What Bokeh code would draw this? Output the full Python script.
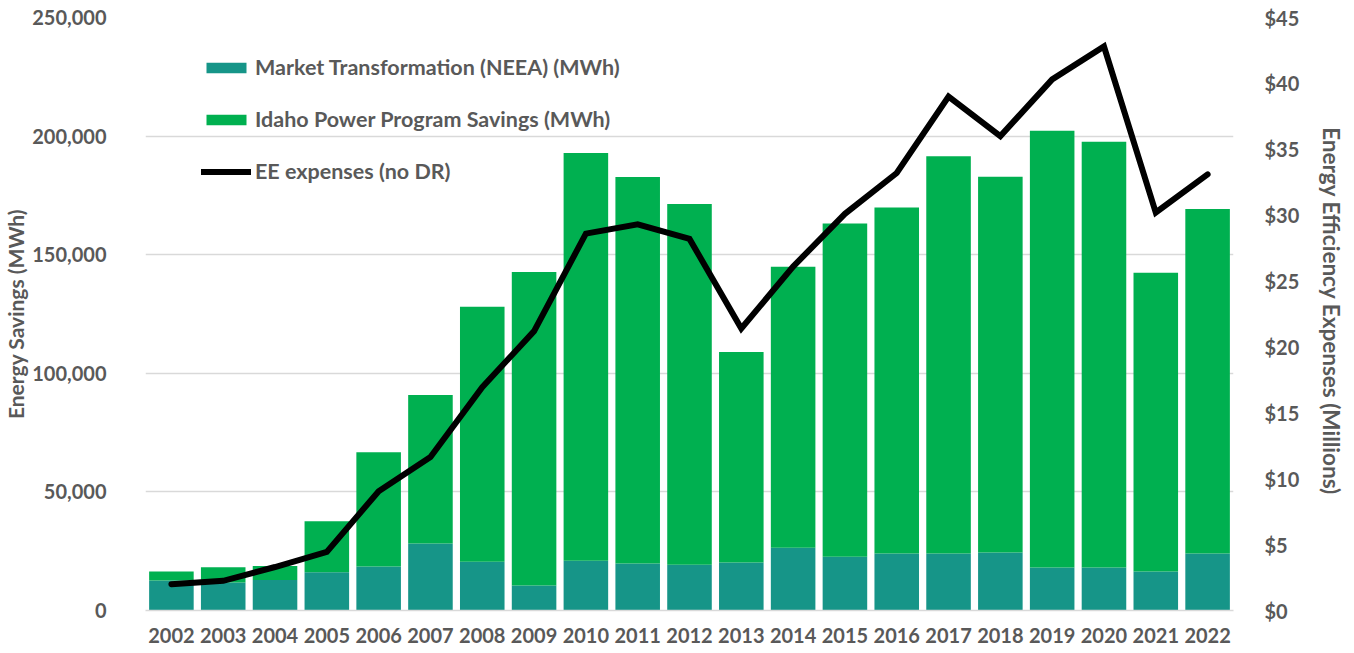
from bokeh.plotting import figure
from bokeh.models import (FactorRange, Range1d, LinearAxis, Legend, LegendItem,
                          NumeralTickFormatter, SingleIntervalTicker, ColumnDataSource)
from bokeh.embed import file_html
from bokeh.resources import INLINE

years = [str(y) for y in range(2002, 2023)]
neea_mwh = [12600, 11800, 12900, 16100, 18500, 28200, 20600, 10500, 21000, 19800, 19300,
            20200, 26500, 22700, 24000, 24000, 24400, 18100, 18100, 16400, 24000]
idaho_mwh = [3800, 6400, 5900, 21500, 48200, 62600, 107500, 132200, 171900, 163000, 152100,
             88800, 118400, 140500, 145900, 167500, 158500, 184200, 179500, 126000, 145300]
ee_expenses_musd = [2.0, 2.25, 3.3, 4.45, 9.05, 11.65, 16.95, 21.2, 28.6, 29.3, 28.2,
                    21.4, 26.1, 30.1, 33.2, 39.0, 36.0, 40.3, 42.8, 30.2, 33.1]

FONT = "Lato"
GREY = "#595959"
TEAL = "#169588"
GREEN = "#00B050"

src = ColumnDataSource(dict(year=years, neea=neea_mwh, idaho=idaho_mwh, ee=ee_expenses_musd))

p = figure(x_range=FactorRange(*years, range_padding=0), y_range=Range1d(0, 250000),
           width=1354, height=653, output_backend="svg", toolbar_location=None,
           min_border_left=145, min_border_right=121, min_border_top=17, min_border_bottom=43)
p.extra_y_ranges = {"usd": Range1d(0, 45)}

bars = p.vbar_stack(["neea", "idaho"], x="year", width=0.86, source=src,
                    color=[TEAL, GREEN], line_color=None)
line = p.line(x="year", y="ee", source=src, y_range_name="usd", color="black",
              line_width=6, line_cap="round", line_join="miter")

p.outline_line_color = None
p.xgrid.grid_line_color = None
p.ygrid.grid_line_color = "#D9D9D9"
p.ygrid.grid_line_width = 1.3

# left axis
ya = p.yaxis[0]
ya.ticker = SingleIntervalTicker(interval=50000)
ya.formatter = NumeralTickFormatter(format="0,0")
ya.axis_line_color = None
ya.major_tick_line_color = None
ya.minor_tick_line_color = None
ya.major_label_standoff = 33
ya.major_label_text_font = FONT
ya.major_label_text_font_style = "bold"
ya.major_label_text_font_size = "20px"
ya.major_label_text_color = GREY
ya.axis_label = "Energy Savings (MWh)"
ya.axis_label_text_font = FONT
ya.axis_label_text_font_style = "bold"
ya.axis_label_text_font_size = "21px"
ya.axis_label_text_color = GREY
ya.axis_label_standoff = 1

# x axis
xa = p.xaxis[0]
xa.axis_line_color = "#D9D9D9"
xa.axis_line_width = 1.3
xa.major_tick_line_color = None
xa.minor_tick_line_color = None
xa.major_label_standoff = 11
xa.major_label_text_font = FONT
xa.major_label_text_font_style = "bold"
xa.major_label_text_font_size = "20px"
xa.major_label_text_color = GREY

# right axis
ra = LinearAxis(y_range_name="usd", ticker=SingleIntervalTicker(interval=5),
                formatter=NumeralTickFormatter(format="$0"))
ra.axis_line_color = None
ra.major_tick_line_color = None
ra.minor_tick_line_color = None
ra.major_label_standoff = 25
ra.major_label_text_font = FONT
ra.major_label_text_font_style = "bold"
ra.major_label_text_font_size = "20px"
ra.major_label_text_color = GREY
ra.axis_label = "Energy Efficiency  Expenses (Millions)"
ra.axis_label_text_font = FONT
ra.axis_label_text_font_style = "bold"
ra.axis_label_text_font_size = "22.5px"
ra.axis_label_text_color = GREY
ra.axis_label_standoff = 16
p.add_layout(ra, "right")

legend = Legend(items=[
    LegendItem(label="Market Transformation (NEEA) (MWh)", renderers=[bars[0]]),
    LegendItem(label="Idaho Power Program Savings (MWh)", renderers=[bars[1]]),
    LegendItem(label="EE expenses (no DR)", renderers=[line]),
], location=(56, 426), orientation="vertical")
legend.background_fill_alpha = 0
legend.border_line_color = None
legend.padding = 0
legend.margin = 0
legend.spacing = 26
legend.glyph_width = 50
legend.glyph_height = 13
legend.label_height = 26
legend.label_standoff = 4
legend.label_text_font = FONT
legend.label_text_font_style = "bold"
legend.label_text_font_size = "21.5px"
legend.label_text_color = GREY
p.add_layout(legend, "center")

open("out.html", "w").write(file_html(p, INLINE))
